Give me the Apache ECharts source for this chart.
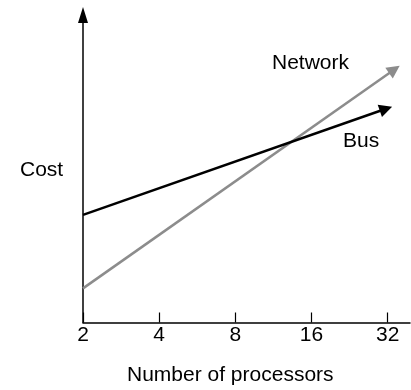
<!DOCTYPE html>
<html>
<head>
<meta charset="utf-8">
<script src="https://cdn.jsdelivr.net/npm/echarts@6/dist/echarts.min.js"></script>
<style>html,body{margin:0;padding:0;background:#fff;}#c{width:411px;height:390px;}</style>
</head>
<body>
<div id="c"></div>
<script>
// Data
var xTicks = [2, 4, 8, 16, 32];
var busStart = [2, 35];
var busEnd = [31.5, 69.5];
var netStart = [2, 11.1];
var netEnd = [34.0, 82.3];
var seriesNames = ['Bus', 'Network'];
var xTitle = 'Number of processors';
var yTitle = 'Cost';

var FONT = '"Liberation Sans", Arial, sans-serif';
var chart = echarts.init(document.getElementById('c'), null, {renderer: 'canvas'});
chart.setOption({
  animation: false,
  backgroundColor: '#fff',
  grid: {left: 83, right: 1, top: 15, bottom: 67.5, containLabel: false},
  xAxis: {
    type: 'log', logBase: 2, min: 2, max: 39.2,
    axisLine: {show: true, lineStyle: {color: '#000', width: 1.5}},
    axisTick: {show: true, inside: true, length: 10, customValues: xTicks, lineStyle: {color: '#000', width: 1.2}},
    axisLabel: {show: true, customValues: xTicks, margin: 2, color: '#000', fontSize: 21, fontFamily: FONT,
      formatter: function (v) { return String(Math.round(v)); }},
    splitLine: {show: false}
  },
  yAxis: {
    type: 'value', min: 0, max: 100,
    axisLine: {show: true, symbol: ['none', 'triangle'], symbolSize: [10, 16], lineStyle: {color: '#000', width: 1.5}},
    axisTick: {show: false}, axisLabel: {show: false}, splitLine: {show: false}
  },
  series: [
    {type: 'lines', coordinateSystem: 'cartesian2d', name: seriesNames[0],
      symbol: ['none', 'triangle'], symbolSize: [10, 13],
      lineStyle: {color: '#000', width: 2.5, opacity: 1},
      data: [{coords: [busStart, busEnd]}], z: 3},
    {type: 'lines', coordinateSystem: 'cartesian2d', name: seriesNames[1],
      symbol: ['none', 'triangle'], symbolSize: [10, 13],
      lineStyle: {color: '#8c8c8c', width: 2.5, opacity: 1},
      data: [{coords: [netStart, netEnd]}], z: 2}
  ],
  graphic: [
    {type: 'text', left: 272, top: 52.5, style: {text: seriesNames[1], fontSize: 21, fontFamily: FONT, fill: '#000'}},
    {type: 'text', left: 343, top: 130.5, style: {text: seriesNames[0], fontSize: 21, fontFamily: FONT, fill: '#000'}},
    {type: 'text', left: 20, top: 159.5, style: {text: yTitle, fontSize: 21, fontFamily: FONT, fill: '#000'}},
    {type: 'text', left: 127, top: 364.5, style: {text: xTitle, fontSize: 21, fontFamily: FONT, fill: '#000'}}
  ]
});
</script>
</body>
</html>
